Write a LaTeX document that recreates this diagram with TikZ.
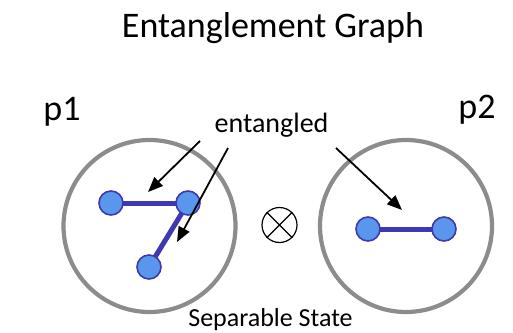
\documentclass[tikz,border=0pt]{standalone}
\usepackage{fontspec}
\setmainfont{Carlito}
\usetikzlibrary{arrows.meta,backgrounds}
\definecolor{qfill}{HTML}{5A96EC}
\definecolor{qedge}{HTML}{4038B0}
\definecolor{ringgray}{HTML}{8C8C8C}
\tikzset{
  qubit/.style={circle, draw=qedge, fill=qfill, line width=1.6pt, minimum size=24pt, inner sep=0pt},
  bond/.style={draw=qedge, line width=5pt},
  party/.style={circle, draw=ringgray, line width=4.2pt, minimum size=172pt, inner sep=0pt},
  pointer/.style={draw=black, line width=1.8pt, -{Triangle[length=15pt,width=12pt]}},
  label/.style={anchor=base, inner sep=0pt}
}
\begin{document}
\begin{tikzpicture}[x=1pt, y=-1pt]
  \useasboundingbox (0,0) rectangle (513,332);

  % title
  \node[label, font=\fontsize{36}{40}\selectfont] (title) at (273,37) {Entanglement Graph};

  % the two parties
  \node[party] (ring1) at (149.5,226) {};
  \node[party] (ring2) at (406,226) {};
  \node[label, font=\fontsize{36}{40}\selectfont] (p1) at (62,120) {p1};
  \node[label, font=\fontsize{36}{40}\selectfont] (p2) at (477,118) {p2};

  % tensor product sign
  \node[circle, draw, line width=1.2pt, minimum size=35pt, inner sep=0pt] (otimes) at (279.5,225) {};
  \draw[line width=1.2pt] (otimes.north west) -- (otimes.south east)
                          (otimes.north east) -- (otimes.south west);

  % qubits of p1
  \node[qubit] (a) at (111,203) {};
  \node[qubit] (b) at (188,203) {};
  \node[qubit] (c) at (149,267) {};
  % qubits of p2
  \node[qubit] (d) at (368,229) {};
  \node[qubit] (e) at (444,229) {};

  % bonds run behind the qubits
  \begin{scope}[on background layer]
    \path[bond] (a.center) -- (b.center);
    \path[bond] (b.center) -- (c.center);
    \path[bond] (d.center) -- (e.center);
  \end{scope}

  % annotation
  \node[label, font=\fontsize{28}{32}\selectfont] (ent) at (271.5,132) {entangled};
  \coordinate (s1) at (200,141);
  \coordinate (t1) at (148,192);
  \coordinate (s2) at (228,148);
  \coordinate (t2) at (177,242);
  \coordinate (s3) at (336,148);
  \coordinate (t3) at (402,210);
  \draw[pointer] (s1) -- (t1);
  \draw[pointer] (s2) -- (t2);
  \draw[pointer] (s3) -- (t3);

  \node[label, font=\fontsize{26}{30}\selectfont] (sep) at (270.5,326) {Separable State};
\end{tikzpicture}
\end{document}
